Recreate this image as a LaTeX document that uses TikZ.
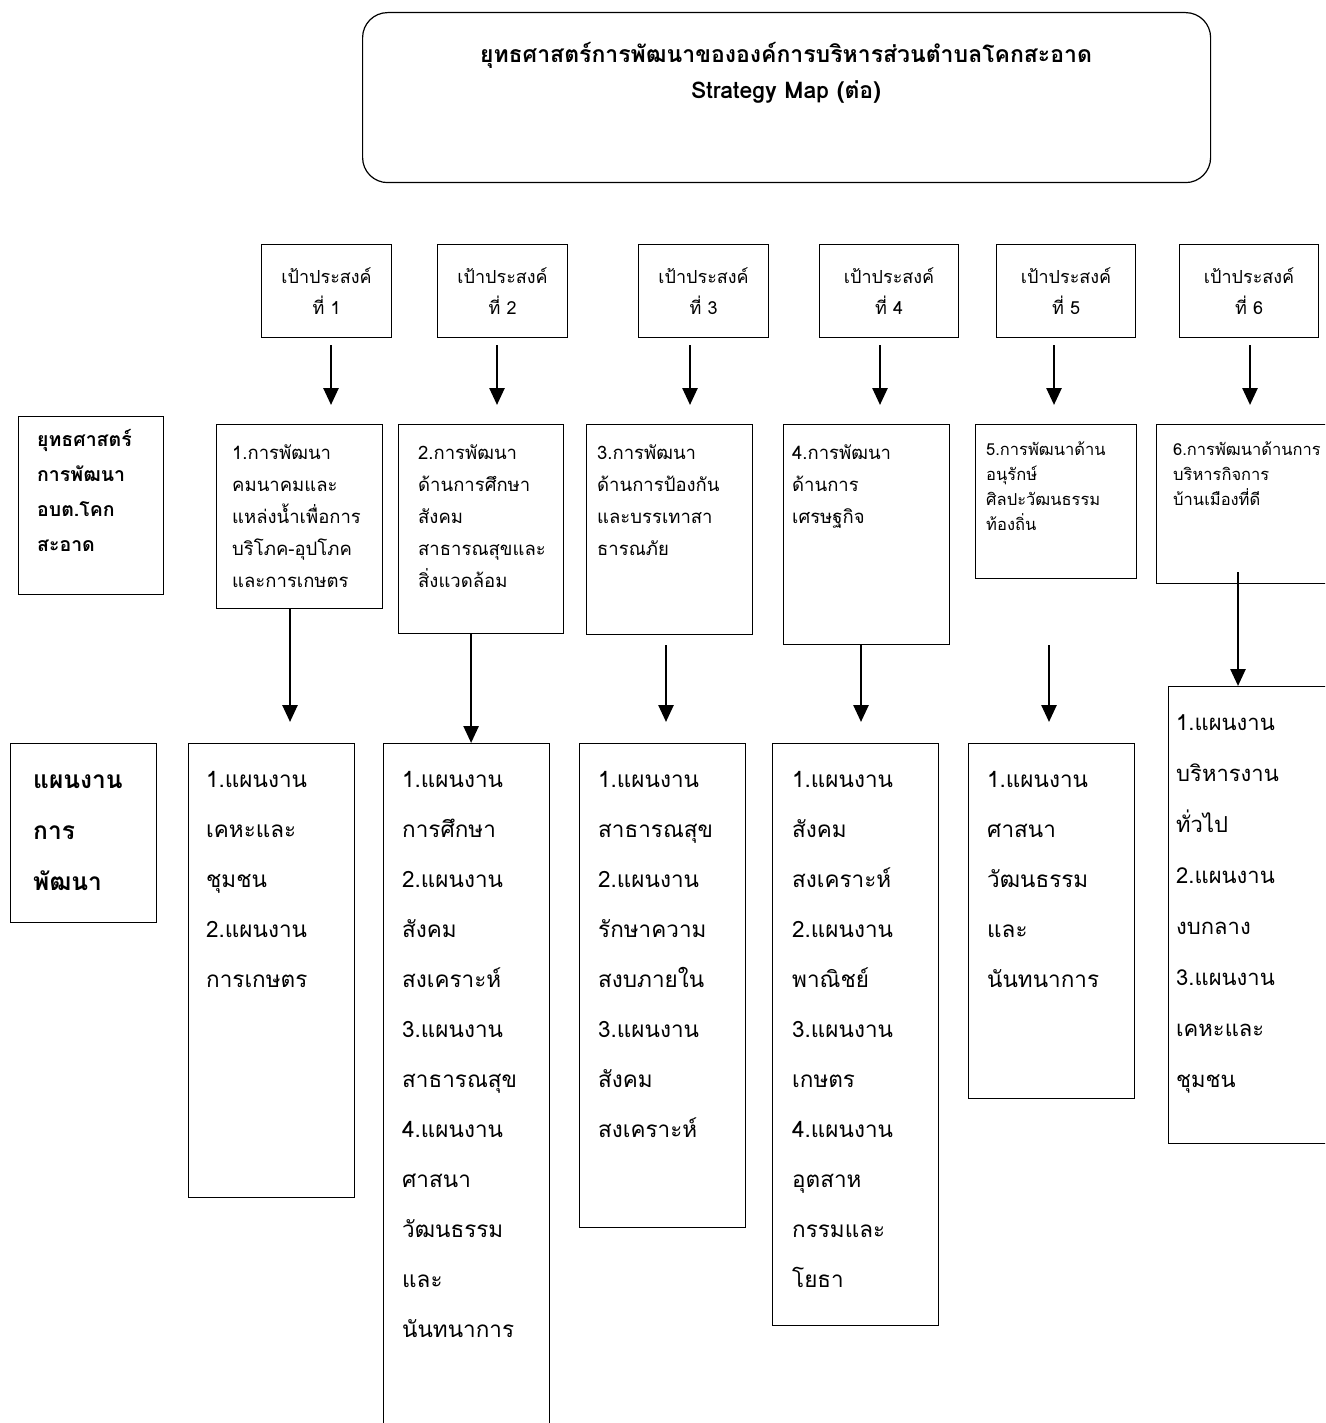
\documentclass[tikz,border=0pt]{standalone}
\usepackage{fontspec}
\setmainfont{Loma}[Script=Thai]
\usetikzlibrary{arrows.meta, positioning}
\tikzset{bx/.style={draw, line width=1.2pt, anchor=north west, inner sep=0pt},
    gbx/.style={bx, minimum height=93pt, align=center, font=\fontsize{18}{31}\selectfont},
    arr/.style={line width=2.6pt, -{Triangle[length=17pt,width=15pt]}},
    txt/.style={anchor=base west, inner sep=0pt, text width=170pt, align=left},
    stxt/.style={txt, font=\fontsize{18.5}{32}\selectfont},
    ptxt/.style={txt, font=\fontsize{22.5}{50}\selectfont}}

\begin{document}
\begin{tikzpicture}[x=1pt, y=-1pt]
        \clip (0,0) rectangle (1325,1423);
        % title
        \node[bx, rounded corners=25pt, minimum width=848pt, minimum height=170pt] (title) at (362,12) {};
        \node[align=center, font=\bfseries\fontsize{23}{36}\selectfont] (titlet) at (786,73)
            {ยุทธศาสตร์การพัฒนาขององค์การบริหารส่วนตำบลโคกสะอาด\\Strategy Map (ต่อ)};
        % goals
        \node[gbx, minimum width=130pt] (g1) at (261,244) {เป้าประสงค์\\ที่ 1};
        \node[gbx, minimum width=130pt] (g2) at (437,244) {เป้าประสงค์\\ที่ 2};
        \node[gbx, minimum width=130pt] (g3) at (638,244) {เป้าประสงค์\\ที่ 3};
        \node[gbx, minimum width=139pt] (g4) at (819,244) {เป้าประสงค์\\ที่ 4};
        \node[gbx, minimum width=139pt] (g5) at (996,244) {เป้าประสงค์\\ที่ 5};
        \node[gbx, minimum width=139pt] (g6) at (1179,244) {เป้าประสงค์\\ที่ 6};
        \coordinate (a1) at (331,345); \coordinate (a2) at (497,345); \coordinate (a3) at (690,345);
        \coordinate (a4) at (880,345); \coordinate (a5) at (1054,345); \coordinate (a6) at (1250,345);
        \draw[arr] (a1) -- ++(0,60);
        \draw[arr] (a2) -- ++(0,60);
        \draw[arr] (a3) -- ++(0,60);
        \draw[arr] (a4) -- ++(0,60);
        \draw[arr] (a5) -- ++(0,60);
        \draw[arr] (a6) -- ++(0,60);
        % strategies
        \node[bx, minimum width=145pt, minimum height=178pt] (lab1) at (18,416) {};
        \node[txt, font=\bfseries\fontsize{19.5}{35}\selectfont] (lab1t) at (37,446) {ยุทธศาสตร์\\การพัฒนา\\อบต.โคก\\สะอาด};
        \node[bx, minimum width=166pt, minimum height=184pt] (s1) at (216,424) {};
        \node[bx, minimum width=165pt, minimum height=209pt] (s2) at (398,424) {};
        \node[bx, minimum width=166pt, minimum height=210pt] (s3) at (586,424) {};
        \node[bx, minimum width=166pt, minimum height=220pt] (s4) at (783,424) {};
        \node[bx, minimum width=161pt, minimum height=154pt] (s5) at (975,424) {};
        \node[bx, minimum width=180pt, minimum height=159pt] (s6) at (1156,424) {};
        \node[stxt] (s1t) at (232,459) {1.การพัฒนา\\คมนาคมและ\\แหล่งน้ำเพื่อการ\\บริโภค-อุปโภค\\และการเกษตร};
        \node[stxt] (s2t) at (418,459) {2.การพัฒนา\\ด้านการศึกษา\\สังคม\\สาธารณสุขและ\\สิ่งแวดล้อม};
        \node[stxt] (s3t) at (597,459) {3.การพัฒนา\\ด้านการป้องกัน\\และบรรเทาสา\\ธารณภัย};
        \node[stxt] (s4t) at (792,459) {4.การพัฒนา\\ด้านการ\\เศรษฐกิจ};
        \node[txt, font=\fontsize{16.5}{25}\selectfont] (s5t) at (986,455) {5.การพัฒนาด้าน\\อนุรักษ์\\ศิลปะวัฒนธรรม\\ท้องถิ่น};
        \node[txt, font=\fontsize{16.5}{25}\selectfont] (s6t) at (1173,455) {6.การพัฒนาด้านการ\\บริหารกิจการ\\บ้านเมืองที่ดี};
        % plans
        \node[bx, minimum width=146pt, minimum height=179pt] (lab2) at (10,743) {};
        \node[txt, font=\bfseries\fontsize{24.5}{51}\selectfont] (lab2t) at (33,788) {แผนงาน\\การ\\พัฒนา};
        \node[bx, minimum width=166pt, minimum height=454pt] (p1) at (188,743) {};
        \node[bx, minimum width=166pt, minimum height=700pt] (p2) at (383,743) {};
        \node[bx, minimum width=166pt, minimum height=484pt] (p3) at (579,743) {};
        \node[bx, minimum width=166pt, minimum height=582pt] (p4) at (772,743) {};
        \node[bx, minimum width=166pt, minimum height=355pt] (p5) at (968,743) {};
        \node[bx, minimum width=170pt, minimum height=457pt] (p6) at (1168,686) {};
        \node[ptxt] (p1t) at (206,787) {1.แผนงาน\\เคหะและ\\ชุมชน\\2.แผนงาน\\การเกษตร};
        \node[ptxt] (p2t) at (402,787) {1.แผนงาน\\การศึกษา\\2.แผนงาน\\สังคม\\สงเคราะห์\\3.แผนงาน\\สาธารณสุข\\4.แผนงาน\\ศาสนา\\วัฒนธรรม\\และ\\นันทนาการ};
        \node[ptxt] (p3t) at (598,787) {1.แผนงาน\\สาธารณสุข\\2.แผนงาน\\รักษาความ\\สงบภายใน\\3.แผนงาน\\สังคม\\สงเคราะห์};
        \node[ptxt] (p4t) at (792,787) {1.แผนงาน\\สังคม\\สงเคราะห์\\2.แผนงาน\\พาณิชย์\\3.แผนงาน\\เกษตร\\4.แผนงาน\\อุตสาห\\กรรมและ\\โยธา};
        \node[ptxt] (p5t) at (987,787) {1.แผนงาน\\ศาสนา\\วัฒนธรรม\\และ\\นันทนาการ};
        \node[txt, font=\fontsize{22}{51}\selectfont] (p6t) at (1176,730) {1.แผนงาน\\บริหารงาน\\ทั่วไป\\2.แผนงาน\\งบกลาง\\3.แผนงาน\\เคหะและ\\ชุมชน};
        % strategy to plan
        \coordinate (t1) at (290,722); \coordinate (t3) at (666,722);
        \coordinate (t4) at (861,722); \coordinate (t5) at (1049,722);
        \coordinate (m3) at (666,645); \coordinate (m4) at (861,645);
        \coordinate (m5) at (1049,645); \coordinate (m6) at (1238,572);
        \draw[arr] (s1.south -| t1) -- (t1);
        \draw[arr] ([xshift=-10pt]s2.south) -- ([xshift=-10pt]s2.south |- p2.north);
        \draw[arr] (m3) -- (t3);
        \draw[arr] (s4.south -| m4) -- (t4);
        \draw[arr] (m5) -- (t5);
        \draw[arr] (m6) -- (m6 |- p6.north);
\end{tikzpicture}
\end{document}
